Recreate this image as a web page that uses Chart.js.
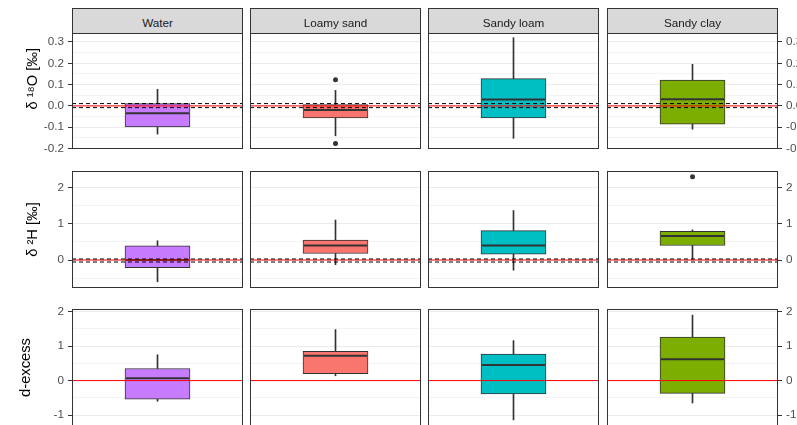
<!DOCTYPE html>
<html><head><meta charset="utf-8">
<script src="https://cdn.jsdelivr.net/npm/chart.js@4"></script>
<style>
html,body{margin:0;padding:0;overflow:hidden;background:#fff;}
#wrap{position:relative;width:797px;height:425px;overflow:hidden;background:#fff;}
canvas{position:absolute;}
.strip{position:absolute;box-sizing:border-box;background:#D9D9D9;border:1px solid #333;color:#1A1A1A;
  font:11.7px "Liberation Sans",Arial,sans-serif;display:flex;align-items:center;justify-content:center;z-index:2;padding-top:2px;}
</style></head><body><div id="wrap"></div>
<script>
// ---- data ----
const categories = ['Water', 'Loamy sand', 'Sandy loam', 'Sandy clay'];
const fillColors = ['#C77CFF', '#F8766D', '#00BFC4', '#7CAE00'];

// each row: [lower whisker, Q1, median, Q3, upper whisker] per category
const d18O_stats = [
  [-0.132, -0.098, -0.034, 0.011, 0.078],
  [-0.140, -0.056, -0.019, 0.0065, 0.073],
  [-0.152, -0.056, 0.030, 0.128, 0.320],
  [-0.109, -0.086, 0.031, 0.121, 0.195]
];
const d18O_outliers = [[], [0.123, -0.176], [], []];
const d18O_ticks = [-0.2, -0.1, 0.0, 0.1, 0.2, 0.3];
const d18O_range = [-0.202, 0.342];
const d18O_refDashed = [0.011, -0.008];

const d2H_stats = [
  [-0.60, -0.21, 0.00, 0.39, 0.53],
  [-0.13, 0.18, 0.40, 0.55, 1.10],
  [-0.28, 0.16, 0.40, 0.81, 1.36],
  [0.02, 0.40, 0.66, 0.79, 0.83]
];
const d2H_outliers = [[], [], [], [2.29]];
const d2H_ticks = [0, 1, 2];
const d2H_range = [-0.77, 2.448];
const d2H_refDashed = [0.028, -0.055];

const dex_stats = [
  [-0.60, -0.54, 0.07, 0.35, 0.75],
  [0.14, 0.20, 0.72, 0.85, 1.48],
  [-1.14, -0.39, 0.45, 0.77, 1.16],
  [-0.65, -0.37, 0.62, 1.26, 1.90]
];
const dex_outliers = [[], [], [], []];
const dex_ticks = [-1, 0, 1, 2];
const dex_range = [-1.318, 2.078];
const dex_refDashed = [];

const refSolid = 0;

// ---- layout ----
const NB = '\u00A0';
const rows = [
  {stats: d18O_stats, outliers: d18O_outliers, ticks: d18O_ticks, range: d18O_range, dashed: d18O_refDashed,
   title: NB.repeat(6) + 'δ ¹⁸O [‰]', titlePad: 24, fmt: v => v.toFixed(1), top: 33, h: 116},
  {stats: d2H_stats, outliers: d2H_outliers, ticks: d2H_ticks, range: d2H_range, dashed: d2H_refDashed,
   title: 'δ ²H [‰]', titlePad: 24, fmt: v => String(v), top: 171, h: 117},
  {stats: dex_stats, outliers: dex_outliers, ticks: dex_ticks, range: dex_range, dashed: dex_refDashed,
   title: 'd-excess', titlePad: 17, fmt: v => String(v), top: 309, h: 117}
];
const colLefts = [72, 250, 428, 607];
const panelW = 171;
const PAD = 16, LEFT_AXIS = 72, RIGHT_AXIS = 45;

Chart.defaults.font.family = '"Liberation Sans", Arial, sans-serif';

const panelDecor = {
  id: 'panelDecor',
  afterDatasetsDraw(chart, args, opts) {
    const {ctx, chartArea: a} = chart;
    const y = chart.scales.y;
    ctx.save();
    ctx.beginPath(); ctx.rect(a.left, a.top, a.width, a.height); ctx.clip();
    // median
    const el = chart.getDatasetMeta(1).data[0];
    const ym = y.getPixelForValue(opts.median);
    ctx.strokeStyle = '#333333'; ctx.lineWidth = 2; ctx.setLineDash([]);
    ctx.beginPath(); ctx.moveTo(el.x - el.width / 2 + 1, ym); ctx.lineTo(el.x + el.width / 2 - 1, ym); ctx.stroke();
    // reference lines
    const y0 = y.getPixelForValue(opts.solid);
    ctx.strokeStyle = '#FF0000'; ctx.lineWidth = 1;
    ctx.beginPath(); ctx.moveTo(a.left, y0); ctx.lineTo(a.right, y0); ctx.stroke();
    ctx.strokeStyle = '#000000'; ctx.setLineDash([4, 3]);
    opts.dashed.forEach(v => {
      const yy = y.getPixelForValue(v);
      ctx.beginPath(); ctx.moveTo(a.left, yy); ctx.lineTo(a.right, yy); ctx.stroke();
    });
    ctx.restore();
    ctx.save();
    ctx.strokeStyle = '#333333'; ctx.lineWidth = 1;
    ctx.strokeRect(a.left + 0.5, a.top + 0.5, a.width - 1, a.height - 1);
    ctx.restore();
  }
};

const wrap = document.getElementById('wrap');

// strips
categories.forEach((c, i) => {
  const d = document.createElement('div');
  d.className = 'strip';
  d.style.left = colLefts[i] + 'px';
  d.style.top = '8px';
  d.style.width = panelW + 'px';
  d.style.height = '26px';
  d.textContent = c;
  wrap.appendChild(d);
});

rows.forEach((row, r) => {
  const majors = row.ticks;
  const step = majors[1] - majors[0];
  const allTicks = [];
  for (let k = -1; k < majors.length; k++) {
    const m = k >= 0 ? majors[k] : majors[0] - step;
    if (k >= 0) allTicks.push(m);
    const mid = m + step / 2;
    if (mid > row.range[0] && mid < row.range[1]) allTicks.push(mid);
  }
  allTicks.sort((a, b) => a - b);
  const isMajor = v => majors.some(m => Math.abs(m - v) < 1e-9);

  categories.forEach((cat, c) => {
    const left = c === 0 ? 0 : colLefts[c];
    const w = panelW + (c === 0 ? LEFT_AXIS : 0) + (c === 3 ? RIGHT_AXIS : 0);
    const h = row.h + 2 * PAD;
    const cv = document.createElement('canvas');
    cv.width = w; cv.height = h;
    cv.style.left = left + 'px'; cv.style.top = (row.top - PAD) + 'px';
    cv.style.width = w + 'px'; cv.style.height = h + 'px';
    wrap.appendChild(cv);

    const s = row.stats[c];
    const showAxis = c === 0 || c === 3;
    new Chart(cv, {
      type: 'bar',
      data: {
        labels: [cat],
        datasets: [
          {type: 'line', showLine: false, data: row.outliers[c].map(v => ({x: cat, y: v})),
           pointRadius: 2.5, pointBackgroundColor: '#333333', pointBorderWidth: 0},
          {data: [[s[1], s[3]]], backgroundColor: fillColors[c], borderColor: '#333333', borderWidth: 1,
           borderSkipped: false, barThickness: 65, grouped: false},
          {data: [[s[0], s[1]]], backgroundColor: '#333333', borderWidth: 0, barThickness: 1, grouped: false},
          {data: [[s[3], s[4]]], backgroundColor: '#333333', borderWidth: 0, barThickness: 1, grouped: false}
        ]
      },
      options: {
        responsive: false, devicePixelRatio: 1, animation: false, events: [],
        layout: {autoPadding: false, padding: {top: PAD, bottom: PAD, left: 0, right: 0}},
        plugins: {
          legend: {display: false}, tooltip: {enabled: false},
          panelDecor: {median: s[2], solid: refSolid, dashed: row.dashed}
        },
        scales: {
          x: {type: 'category', display: false, offset: true},
          y: {
            type: 'linear', position: c === 3 ? 'right' : 'left',
            min: row.range[0], max: row.range[1],
            afterBuildTicks: sc => { sc.ticks = allTicks.map(v => ({value: v})); },
            afterFit: sc => { sc.width = c === 0 ? LEFT_AXIS : (c === 3 ? RIGHT_AXIS : 0); },
            ticks: {display: showAxis, autoSkip: false, color: '#4D4D4D', font: {size: 11.7}, padding: 4,
                    callback: v => isMajor(v) ? row.fmt(v) : ''},
            grid: {
              drawTicks: showAxis, tickLength: 4, lineWidth: 1,
              color: ctx => { const v = ctx.tick ? ctx.tick.value : NaN; return isMajor(v) ? '#EBEBEB' : '#F3F3F3'; },
              tickColor: ctx => { const v = ctx.tick ? ctx.tick.value : NaN; return isMajor(v) ? '#333333' : 'rgba(0,0,0,0)'; }
            },
            border: {display: false},
            title: {display: c === 0, text: row.title, color: '#000000', font: {size: 14.7},
                    padding: {top: row.titlePad, bottom: 0}}
          }
        }
      },
      plugins: [panelDecor]
    });
  });
});
</script></body></html>
